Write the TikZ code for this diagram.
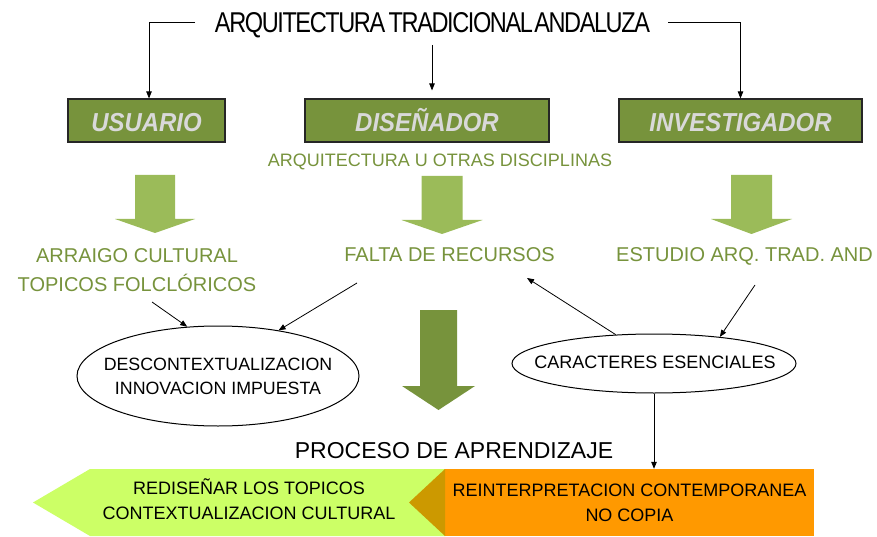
\documentclass[tikz,border=0pt]{standalone}
\usepackage{fontspec}
\usepackage{graphicx}
\setmainfont{Liberation Sans}
\newfontfamily\titlefont{Liberation Sans}[LetterSpace=-6]
\usetikzlibrary{arrows.meta,shapes.geometric}
\definecolor{oliveG}{HTML}{77933C}
\definecolor{lightG}{HTML}{9BBB59}
\definecolor{boxtxt}{HTML}{D9D9D9}
\definecolor{limeG}{HTML}{CCFF66}
\definecolor{orangeF}{HTML}{FF9900}
\definecolor{darkO}{HTML}{CC9900}
\newcommand\DArr[7]{\fill[#1] (#2-#4,#3) -- (#2+#4,#3) -- (#2+#4,#6) -- (#2+#5,#6) -- (#2,#7) -- (#2-#5,#6) -- (#2-#4,#6) -- cycle;}
\begin{document}
\begin{tikzpicture}[x=1pt,y=-1pt,
  arr/.style={draw=black, line width=0.8pt, -{Triangle[length=7pt,width=5.5pt]}},
  rolebox/.style={draw=black!85, line width=1.2pt, fill=oliveG, text=boxtxt,
    font=\fontsize{26}{30}\selectfont\bfseries\itshape, inner sep=0pt,
    minimum height=43pt, text height=22pt, text depth=0pt},
  greentxt/.style={text=oliveG, font=\fontsize{20}{29}\selectfont, inner sep=0pt, align=center},
  blacktxt/.style={text=black, font=\fontsize{17.8}{24}\selectfont, inner sep=0pt, align=center},
  oval/.style={ellipse, draw=black, line width=1pt, fill=white, inner sep=0pt}]
\useasboundingbox (0,0) rectangle (877,537);
\fill[white] (0,0) rectangle (877,537);

% title
\node[anchor=base, inner sep=0pt] (title) at (432.5,33)
  {\resizebox{435pt}{20pt}{\titlefont ARQUITECTURA\hspace{0.15em}TRADICIONAL\hspace{0.06em}ANDALUZA}};

% role boxes
\node[rolebox, minimum width=157pt] (usuario) at (146.5,120.5) {\scalebox{0.92}[1]{USUARIO}};
\node[rolebox, minimum width=244pt] (disenador) at (427,120.5) {\scalebox{0.92}[1]{DISEÑADOR}};
\node[rolebox, minimum width=243pt] (investigador) at (740.5,120.5) {\scalebox{0.92}[1]{INVESTIGADOR}};

% arrows from title
\coordinate (tl) at (195,22);
\coordinate (tr) at (668,22);
\coordinate (tm) at (432,45);
\path ([yshift=8pt]disenador.north) coordinate (dn);
\draw[arr] (tl) -| ([xshift=2.5pt]usuario.north);
\draw[arr] (tr) -| (investigador.north);
\draw[arr] (tm) -- (tm |- dn);

\node[greentxt, font=\fontsize{18}{22}\selectfont, anchor=base] (disc) at (440,167) {ARQUITECTURA U OTRAS DISCIPLINAS};

% light block arrows
\DArr{lightG}{155}{175}{20}{40}{219}{233}
\DArr{lightG}{442}{176}{20.5}{40.5}{220}{234}
\DArr{lightG}{751.5}{175}{20.5}{40.5}{219}{234}

% green texts
\node[greentxt, anchor=north] (arraigo) at (137,248) {ARRAIGO CULTURAL\\TOPICOS FOLCLÓRICOS};
\node[greentxt, anchor=base] (falta) at (449.5,261) {FALTA DE RECURSOS};
\node[greentxt, anchor=base] (estudio) at (744.5,261) {ESTUDIO ARQ. TRAD. AND};

% ellipses
\node[oval, minimum width=282pt, minimum height=100pt] (e1) at (218,376) {};
\node[blacktxt] (e1txt) at (e1.center) {DESCONTEXTUALIZACION\\INNOVACION IMPUESTA};
\node[oval, minimum width=284pt, minimum height=59pt] (e2) at (654,363.5) {};
\node[blacktxt, font=\fontsize{18}{22}\selectfont] (e2txt) at (655,362.5) {CARACTERES ESENCIALES};

% connectors
\coordinate (s1) at (152,302);
\coordinate (s2) at (357,283);
\coordinate (t3) at (527,278);
\coordinate (s4) at (755,285);
\draw[arr] (s1) -- (e1.122);
\draw[arr] (s2) -- (e1.37);
\draw[arr] (e2.143.8) -- (t3);
\draw[arr] (s4) -- (e2.22);

% big dark arrow
\DArr{oliveG}{438.5}{310}{18.5}{36.5}{386}{410}

\node[font=\fontsize{23}{26}\selectfont, anchor=base, inner sep=0pt] (proceso) at (454,458) {PROCESO DE APRENDIZAJE};

% bottom band
\fill[limeG] (33,502.5) -- (90,469) -- (445,469) -- (445,536) -- (90,536) -- cycle;
\node[fill=orangeF, minimum width=369pt, minimum height=67pt, inner sep=0pt,
  font=\fontsize{18}{25}\selectfont, align=center] (orange) at (629.5,502.5)
  {REINTERPRETACION CONTEMPORANEA\\NO COPIA};
\fill[darkO] (409,502.5) -- (445,469) -- (445,536) -- cycle;
\node[font=\fontsize{18}{25}\selectfont, align=center, inner sep=0pt] (redis) at (249,499.5)
  {REDISEÑAR LOS TOPICOS\\CONTEXTUALIZACION CULTURAL};

\draw[arr] (e2.south) -- (e2.south |- orange.north);
\end{tikzpicture}
\end{document}
